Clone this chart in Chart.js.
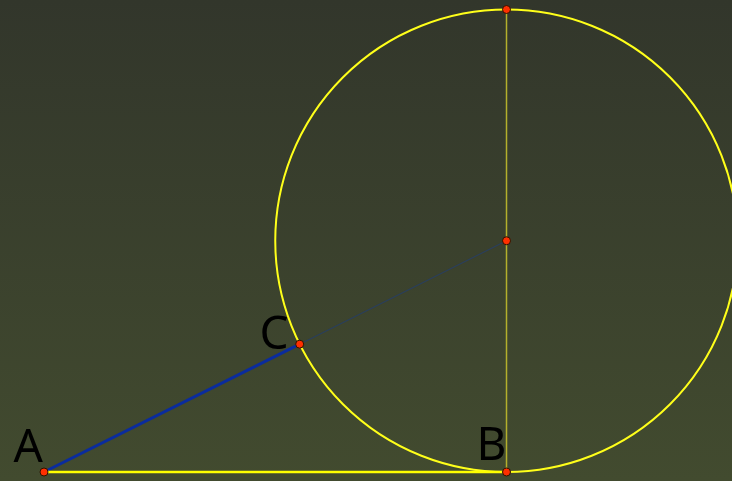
<!DOCTYPE html>
<html>
<head>
<meta charset="utf-8">
<script src="https://cdn.jsdelivr.net/npm/chart.js@4"></script>
<style>
html,body{margin:0;padding:0;background:#3a4230;}
#wrap{width:732px;height:481px;position:relative;}
</style>
</head>
<body>
<div id="wrap"><canvas id="c"></canvas></div>
<script>
// Geometry data (units: radius = 1)
const pointNames = ["A", "B", "C", "O", "T"];
const pointX = [0, 2, 1.1056, 2, 2];
const pointY = [0, 0, 0.5528, 1, 2];
const labeled = ["A", "B", "C"];
const circleCenter = [2, 1];
const circleRadius = 1;
const segAB = [[0, 0], [2, 0]];
const segAC = [[0, 0], [1.1056, 0.5528]];
const segCO = [[1.1056, 0.5528], [2, 1]];
const segDiam = [[2, 0], [2, 2]];
const xRange = [-0.1903, 2.9751];
const yRange = [-0.0389, 2.0411];

const toXY = a => a.map(p => ({x: p[0], y: p[1]}));

const bgPlugin = {
  id: 'bg',
  beforeDraw(chart) {
    const ctx = chart.ctx, h = chart.height, w = chart.width;
    const g = ctx.createLinearGradient(0, 0, 0, h);
    g.addColorStop(0, '#32362b');
    g.addColorStop(1, '#424b2f');
    ctx.save();
    ctx.fillStyle = g;
    ctx.fillRect(0, 0, w, h);
    ctx.restore();
  }
};

const circlePlugin = {
  id: 'circ',
  beforeDatasetsDraw(chart) {
    const xs = chart.scales.x, ys = chart.scales.y, ctx = chart.ctx;
    const cx = xs.getPixelForValue(circleCenter[0]);
    const cy = ys.getPixelForValue(circleCenter[1]);
    const r = Math.abs(xs.getPixelForValue(circleCenter[0] + circleRadius) - cx);
    ctx.save();
    ctx.beginPath();
    ctx.arc(cx, cy, r, 0, Math.PI * 2);
    ctx.strokeStyle = '#ffff1a';
    ctx.lineWidth = 2;
    ctx.stroke();
    ctx.restore();
  }
};

const labelOffsets = {A: [-1, -10], B: [0, -12], C: [-11, 5]};
const labelPlugin = {
  id: 'lbl',
  afterDatasetsDraw(chart) {
    const xs = chart.scales.x, ys = chart.scales.y, ctx = chart.ctx;
    ctx.save();
    ctx.font = '46px "Noto Sans"';
    ctx.fillStyle = '#000000';
    ctx.textAlign = 'right';
    ctx.textBaseline = 'alphabetic';
    labeled.forEach(n => {
      const i = pointNames.indexOf(n);
      const px = xs.getPixelForValue(pointX[i]);
      const py = ys.getPixelForValue(pointY[i]);
      const o = labelOffsets[n];
      ctx.fillText(n, px + o[0], py + o[1]);
    });
    ctx.restore();
  }
};

new Chart(document.getElementById('c'), {
  type: 'scatter',
  data: {
    datasets: [
      {
        label: 'points', order: 0,
        data: pointX.map((x, i) => ({x: x, y: pointY[i]})),
        pointRadius: 4, pointBackgroundColor: '#ff2f00', pointBorderColor: '#2a1400',
        pointBorderWidth: 1, showLine: false, clip: false
      },
      {label: 'AB', order: 1, data: toXY(segAB), showLine: true, borderColor: '#ffff00', borderWidth: 2.5, pointRadius: 0, clip: false},
      {label: 'AC', order: 2, data: toXY(segAC), showLine: true, borderColor: '#0a2c9e', borderWidth: 3, pointRadius: 0, clip: false},
      {label: 'CO', order: 3, data: toXY(segCO), showLine: true, borderColor: '#2a3f5c', borderWidth: 1.2, pointRadius: 0, clip: false},
      {label: 'diam', order: 4, data: toXY(segDiam), showLine: true, borderColor: '#b4b02c', borderWidth: 1.5, pointRadius: 0, clip: false}
    ]
  },
  options: {
    responsive: true, maintainAspectRatio: false, animation: false,
    layout: {padding: 0, autoPadding: false},
    plugins: {legend: {display: false}, tooltip: {enabled: false}},
    scales: {
      x: {type: 'linear', min: xRange[0], max: xRange[1], display: false},
      y: {type: 'linear', min: yRange[0], max: yRange[1], display: false}
    }
  },
  plugins: [bgPlugin, circlePlugin, labelPlugin]
});
</script>
</body>
</html>
